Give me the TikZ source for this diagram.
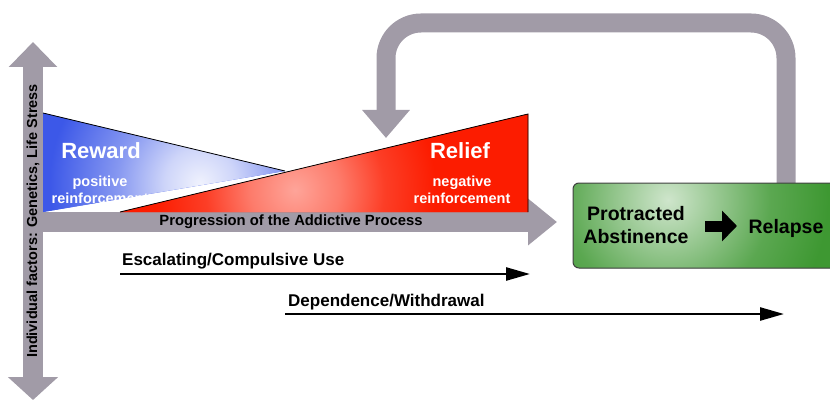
\documentclass[tikz,border=0pt]{standalone}
\usepackage{fontspec}
\setmainfont{Liberation Sans}
\usetikzlibrary{arrows.meta}
\definecolor{grayarr}{RGB}{161,155,167}
\definecolor{rwblue}{RGB}{60,88,232}
\definecolor{rlred}{RGB}{252,28,0}
\definecolor{pagreen}{RGB}{62,152,50}
\pgfdeclareradialshading{bluespot}{\pgfpoint{0bp}{0bp}}{color(0bp)=(rwblue!8!white); color(2.2bp)=(rwblue!25!white);
  color(5.2bp)=(rwblue!62!white); color(9.4bp)=(rwblue); color(50bp)=(rwblue)}
\pgfdeclareradialshading{redspot}{\pgfpoint{0bp}{0bp}}{color(0bp)=(rlred!40!white); color(2.8bp)=(rlred!58!white);
  color(5.6bp)=(rlred!85!white); color(8.8bp)=(rlred); color(50bp)=(rlred)}
\pgfdeclareradialshading{greenspot}{\pgfpoint{0bp}{0bp}}{color(0bp)=(pagreen!25!white); color(3.2bp)=(pagreen!55!white);
  color(6.4bp)=(pagreen!85!white); color(10bp)=(pagreen); color(50bp)=(pagreen)}
\tikzset{fat/.style={draw=grayarr, line width=20pt}}
\tikzset{lbl/.style={inner sep=0pt, font=\bfseries}}
\tikzset{wlbl/.style={lbl, text=white, align=center}}
\tikzset{blackarr/.style={draw=black, line width=2.5pt, -{Triangle[width=13pt,length=24pt]}}}
\tikzset{greenbox/.style={draw=black!75, line width=1pt, rounded corners=6pt, fill=pagreen,
    minimum width=265pt, minimum height=85pt, inner sep=0pt}}
\newcommand{\fs}[1]{\bfseries\fontsize{#1}{1.2\dimexpr#1pt\relax}\selectfont}

\begin{document}
\begin{tikzpicture}[x=1pt,y=-1pt]
\useasboundingbox (0,0) rectangle (830,401);
% axes
\coordinate (top) at (33,42);
\coordinate (bot) at (33,400);
\coordinate (orig) at (23,222);
\coordinate (tip) at (557,222);
\draw[fat, {Triangle[width=47pt,length=25pt]}-{Triangle[width=49pt,length=23pt]}] (top) -- (bot);
\draw[fat, -{Triangle[width=45pt,length=29pt]}] (orig) -- (tip);
% reward and relief
\path[fill=rwblue, path picture={\shade[shading=bluespot] (200,183) circle (400pt);}]
  (43,113) -- (285,171) -- (43,212) -- cycle;
\draw[line width=0.8pt] (43,113) -- (285,171);
\path[fill=rlred, path picture={\shade[shading=redspot] (295,190) circle (400pt);}]
  (120,212) -- (528,114) -- (528,212) -- cycle;
\draw[line width=0.8pt] (120,212) -- (528,114) -- (528,212);
\node[wlbl, font=\fs{22}, anchor=base] (reward) at (101,159) {Reward};
\node[wlbl, font=\fs{14.5}] (pos) at (100,190) {positive\\reinforcement};
\node[wlbl, font=\fs{22}, anchor=base] (relief) at (460,158) {Relief};
\node[wlbl, font=\fs{14.5}] (neg) at (462,190) {negative\\reinforcement};
\node[lbl, font=\fs{14.8}] (prog) at (291,222) {Progression of the Addictive Process};
\node[lbl, font=\fs{14.5}, rotate=90] (indiv) at (33,221) {Individual factors: Genetics, Life Stress};
% loop back
\coordinate (lpstart) at (786,184);
\coordinate (lpa) at (786,23);
\coordinate (lpb) at (386,23);
\coordinate (lpend) at (386,138);
\draw[fat, line width=19pt, rounded corners=35pt, -{Triangle[width=46pt,length=28pt]}]
  (lpstart) -- (lpa) -- (lpb) -- (lpend);
% green box
\node[greenbox, path picture={\shade[shading=greenspot]
    ([xshift=-37.5pt,yshift=25.5pt]path picture bounding box.center) circle (400pt);}]
  (box) at (705.5,225.5) {};
\node[lbl, font=\fs{19.5}, align=center] (abst) at (636,225) {Protracted\\Abstinence};
\node[lbl, font=\fs{19.5}] (relapse) at (786,228) {Relapse};
\coordinate (pa) at (705,226);
\coordinate (pb) at (737,226);
\draw[line width=11pt, -{Triangle[width=30pt,length=15pt]}] (pa) -- (pb);
% use and withdrawal
\node[lbl, font=\fs{17}, anchor=base west] (esc) at (122,265) {Escalating/Compulsive Use};
\coordinate (esa) at (120,274);
\coordinate (esb) at (530,274);
\draw[blackarr] (esa) -- (esb);
\node[lbl, font=\fs{17}, anchor=base west] (dep) at (288,306) {Dependence/Withdrawal};
\coordinate (dpa) at (285,314);
\coordinate (dpb) at (784,314);
\draw[blackarr] (dpa) -- (dpb);
\end{tikzpicture}
\end{document}
